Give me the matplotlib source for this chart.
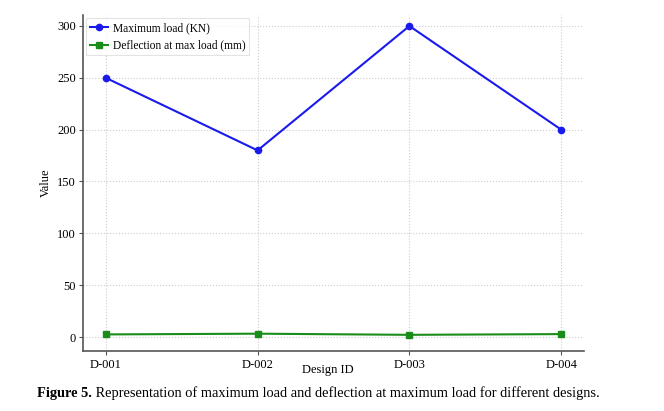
import matplotlib
matplotlib.use("Agg")
import matplotlib.pyplot as plt

designs = ["D-001", "D-002", "D-003", "D-004"]
max_load = [250, 180, 300, 200]
deflection = [2.5, 3.2, 2.1, 2.8]

plt.rcParams['font.family'] = ['Liberation Serif', 'DejaVu Serif']

fig = plt.figure(figsize=(6.64, 4.11), dpi=100)
ax = fig.add_axes([83/664, 1 - 351/411, (584-83)/664, (351-15)/411])

x = list(range(len(designs)))
ax.plot(x, max_load, color='#1a1aee', marker='o', markersize=4.5, linewidth=1.5,
        label='Maximum load (KN)')
ax.plot(x, deflection, color='#1a8c1a', marker='s', markersize=4.5, linewidth=1.5,
        label='Deflection at max load (mm)')

ax.set_xticks(x)
ax.set_xticklabels(designs)
ax.set_yticks([0, 50, 100, 150, 200, 250, 300])
ax.set_ylim(-13.5, 310.6)
ax.tick_params(labelsize=9, length=3, color='#555555')
ax.tick_params(axis='y', pad=2)
ax.tick_params(axis='x', pad=3)
ax.grid(True, linestyle=':', color='#cccccc', linewidth=0.8)
for s in ['top', 'right']:
    ax.spines[s].set_visible(False)
for s in ['left', 'bottom']:
    ax.spines[s].set_color('#555555')
    ax.spines[s].set_linewidth(1.2)

ax.set_xlabel('Design ID', fontsize=9)
ax.xaxis.set_label_coords((328-83)/501, (351-364)/336)
ax.set_ylabel('Value', fontsize=9)
ax.yaxis.set_label_coords((52-83)/501, 0.5)

leg = ax.legend(loc='upper left', fontsize=8.3, frameon=True, borderaxespad=0.3,
                handlelength=1.6, handletextpad=0.4, borderpad=0.3, labelspacing=0.5,
                fancybox=False)
leg.get_frame().set_edgecolor('#dddddd')
leg.get_frame().set_linewidth(0.8)

t1 = fig.text(37/664, 1 - 397/411, 'Figure 5.', fontsize=10.4, fontweight='bold', va='baseline')
ax.annotate(' Representation of maximum load and deflection at maximum load for different designs.',
            xy=(1, 0), xycoords=t1, fontsize=10.4, va='bottom', ha='left',
            annotation_clip=False)

fig.savefig('out.png', dpi=100)
